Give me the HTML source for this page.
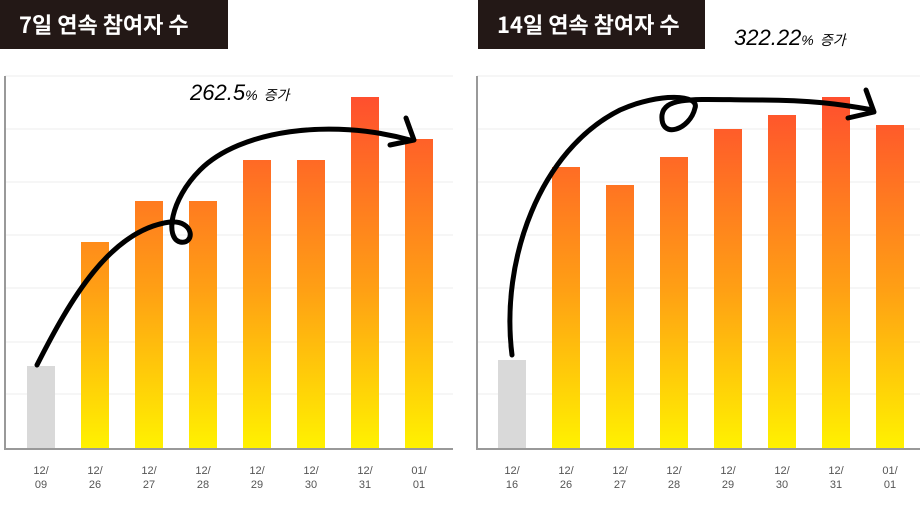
<!DOCTYPE html>
<html><head><meta charset="utf-8"><style>
body{margin:0;background:#fff;width:920px;height:509px;overflow:hidden;font-family:"Liberation Sans","Noto Sans CJK KR",sans-serif}
</style></head><body>
<svg width="920" height="509" xmlns="http://www.w3.org/2000/svg" style="position:absolute;left:0;top:0">
<defs><linearGradient id="g" x1="0" y1="0" x2="0" y2="1"><stop offset="0" stop-color="#ff4f2e"/><stop offset="0.55" stop-color="#ffa014"/><stop offset="1" stop-color="#fff200"/></linearGradient>
<linearGradient id="g2" gradientUnits="userSpaceOnUse" x1="0" y1="97" x2="0" y2="449"><stop offset="0" stop-color="#ff4f2e"/><stop offset="0.55" stop-color="#ffa014"/><stop offset="1" stop-color="#fff200"/></linearGradient></defs>
<rect x="0" y="0" width="228" height="49" fill="#231816"/>
<rect x="478" y="0" width="227" height="49" fill="#231816"/>
<text x="19" y="33" fill="#fff" font-size="22" font-weight="bold" font-family="Noto Sans CJK KR,sans-serif">7일 연속 참여자 수</text>
<text x="497" y="33" fill="#fff" font-size="22" font-weight="bold" font-family="Noto Sans CJK KR,sans-serif">14일 연속 참여자 수</text>
<g stroke="#eee" stroke-width="1">
<line x1="5" x2="453" y1="76" y2="76"/><line x1="5" x2="453" y1="129" y2="129"/><line x1="5" x2="453" y1="182" y2="182"/><line x1="5" x2="453" y1="235" y2="235"/><line x1="5" x2="453" y1="288" y2="288"/><line x1="5" x2="453" y1="342" y2="342"/><line x1="5" x2="453" y1="394" y2="394"/>
<line x1="477" x2="920" y1="76" y2="76"/><line x1="477" x2="920" y1="129" y2="129"/><line x1="477" x2="920" y1="182" y2="182"/><line x1="477" x2="920" y1="235" y2="235"/><line x1="477" x2="920" y1="288" y2="288"/><line x1="477" x2="920" y1="342" y2="342"/><line x1="477" x2="920" y1="394" y2="394"/>
</g>
<g fill="url(#g2)">
<rect x="27" y="366" width="28" height="83" fill="#d9d9d9"/>
<rect x="81" y="242" width="28" height="207"/><rect x="135" y="201" width="28" height="248"/><rect x="189" y="201" width="28" height="248"/><rect x="243" y="160" width="28" height="289"/><rect x="297" y="160" width="28" height="289"/><rect x="351" y="97" width="28" height="352"/><rect x="405" y="139" width="28" height="310"/>
<rect x="498" y="360" width="28" height="89" fill="#d9d9d9"/>
<rect x="552" y="167" width="28" height="282"/><rect x="606" y="185" width="28" height="264"/><rect x="660" y="157" width="28" height="292"/><rect x="714" y="129" width="28" height="320"/><rect x="768" y="115" width="28" height="334"/><rect x="822" y="97" width="28" height="352"/><rect x="876" y="125" width="28" height="324"/>
</g>
<g stroke="#999" stroke-width="2" fill="none"><polyline points="5,76 5,449 453,449"/><polyline points="477,76 477,449 920,449"/></g>
<g font-size="11" fill="#555" text-anchor="middle">
<text x="41" y="474">12/</text><text x="41" y="488">09</text>
<text x="95" y="474">12/</text><text x="95" y="488">26</text>
<text x="149" y="474">12/</text><text x="149" y="488">27</text>
<text x="203" y="474">12/</text><text x="203" y="488">28</text>
<text x="257" y="474">12/</text><text x="257" y="488">29</text>
<text x="311" y="474">12/</text><text x="311" y="488">30</text>
<text x="365" y="474">12/</text><text x="365" y="488">31</text>
<text x="419" y="474">01/</text><text x="419" y="488">01</text>
<text x="512" y="474">12/</text><text x="512" y="488">16</text>
<text x="566" y="474">12/</text><text x="566" y="488">26</text>
<text x="620" y="474">12/</text><text x="620" y="488">27</text>
<text x="674" y="474">12/</text><text x="674" y="488">28</text>
<text x="728" y="474">12/</text><text x="728" y="488">29</text>
<text x="782" y="474">12/</text><text x="782" y="488">30</text>
<text x="836" y="474">12/</text><text x="836" y="488">31</text>
<text x="890" y="474">01/</text><text x="890" y="488">01</text>
</g>
<g stroke="#000" stroke-width="5" fill="none" stroke-linecap="round" stroke-linejoin="round">
<path d="M37,365 C70,300 110,230 170,222 C195,220 195,245 180,242 C165,238 170,200 200,170 C240,130 330,118 410,140"/>
<path d="M390,145 L414,140 L406,118"/>
<path d="M512,355 C500,260 540,150 620,110 C660,92 700,95 695,108 C690,130 660,140 662,115 C665,95 700,100 760,100 C810,100 840,104 873,110"/>
<path d="M848,118 L874,112 L866,90"/>
</g>
<text x="190" y="100" font-size="22" fill="#000" font-family="Liberation Sans,sans-serif" font-style="italic">262.5<tspan font-size="14">%</tspan> <tspan font-size="14" font-family="Noto Sans CJK KR,sans-serif">증가</tspan></text>
<text x="734" y="45" font-size="22" fill="#000" font-family="Liberation Sans,sans-serif" font-style="italic">322.22<tspan font-size="14">%</tspan> <tspan font-size="14" font-family="Noto Sans CJK KR,sans-serif">증가</tspan></text>
</svg>
</body></html>
